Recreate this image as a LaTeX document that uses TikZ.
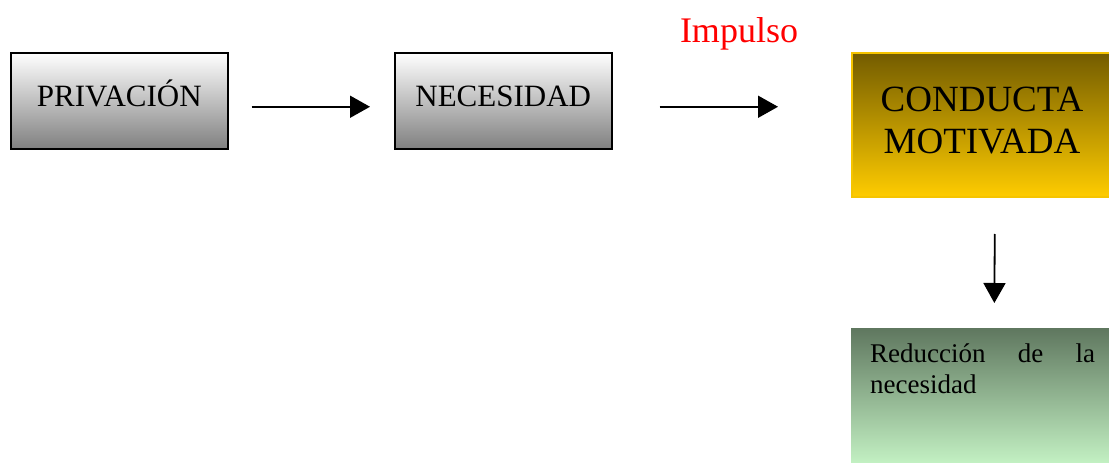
\documentclass[tikz,border=0pt]{standalone}
\usepackage{fontspec}
\setmainfont{Liberation Serif}
\usetikzlibrary{arrows.meta}
\definecolor{grayend}{HTML}{808080}
\definecolor{oliveTop}{HTML}{735C00}
\definecolor{goldBot}{HTML}{FFCC00}
\definecolor{goldLine}{HTML}{F5C400}
\definecolor{greenTop}{HTML}{5F775F}
\definecolor{greenBot}{HTML}{C8F7C8}
\begin{document}
\begin{tikzpicture}[x=1pt,y=-1pt,
  graybox/.style={draw=black,line width=1.5pt,top color=white,bottom color=grayend,
    minimum width=217pt,minimum height=96pt,anchor=north west,inner sep=0pt,
    text height=22pt,text depth=10pt,
    font=\fontsize{31}{36}\selectfont},
  arr/.style={line width=1.8pt,-{Triangle[length=20pt,width=22pt]}},
  goldbox/.style={draw=goldLine,line width=2pt,top color=oliveTop,bottom color=goldBot,
    minimum width=286pt,minimum height=144pt,anchor=north west,inner sep=0pt},
  greenbox/.style={top color=greenTop,bottom color=greenBot,
    minimum width=286pt,minimum height=142pt,anchor=north west,inner sep=0pt}]
\useasboundingbox (0,0) rectangle (1109,463);
\fill[white] (0,0) rectangle (1109,463);
\node[graybox] (priv) at (10,52) {PRIVACIÓN};
\node[graybox] (nec) at (394,52) {NECESIDAD};
\node[goldbox] (cond) at (851,52) {};
\node[greenbox] (red) at (851,328) {};
\node[align=center,inner sep=0pt,font=\fontsize{37}{42}\selectfont] (ctext) at (982,121) {CONDUCTA\\MOTIVADA};
\node[anchor=base,text=red,inner sep=0pt,font=\fontsize{36}{40}\selectfont] (imp) at (739,42) {Impulso};
\node[anchor=base west,align=left,inner sep=0pt,font=\fontsize{27}{31}\selectfont] (rtext) at (870,393)
  {\makebox[225pt][s]{Reducción\hfill de\hfill la}\\necesidad};
\draw[arr,shorten <=23pt,shorten >=24pt] ([yshift=-6pt]priv.east) -- ([yshift=-6pt]nec.west);
\draw[arr,shorten <=47pt,shorten >=73pt] ([yshift=-6pt]nec.east) -- ([yshift=-6pt]nec.east -| cond.west);
\draw[arr,shorten <=36pt,shorten >=25pt] (cond.south) -- (red.north);
\end{tikzpicture}
\end{document}
